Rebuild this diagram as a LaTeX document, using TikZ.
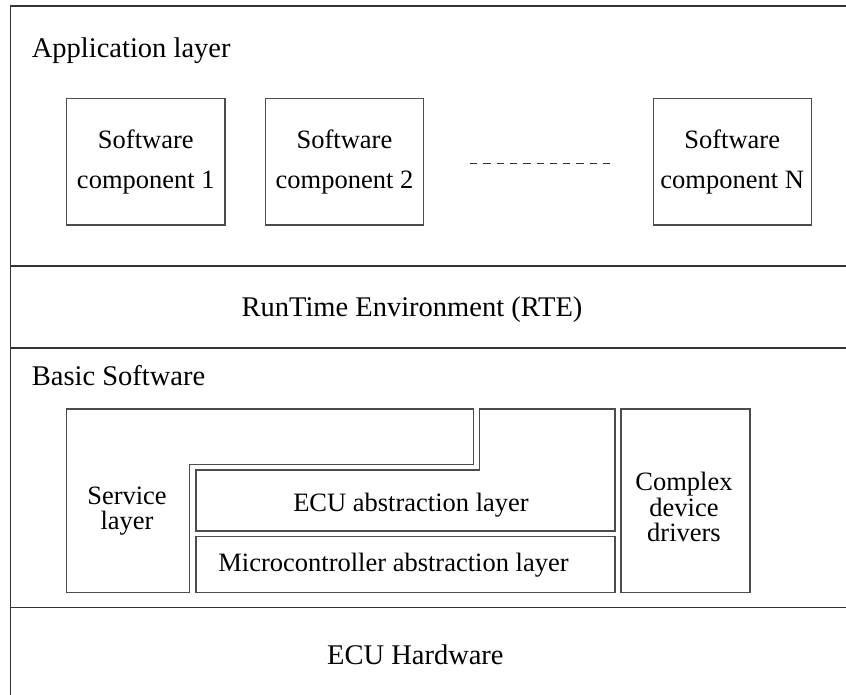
\documentclass[tikz,border=0pt]{standalone}
\usepackage{fontspec}
\setmainfont{Liberation Serif}
\begin{document}
\begin{tikzpicture}[x=1pt,y=-1pt,
  layerline/.style={line width=1.5pt, draw=black!80},
  boxline/.style={line width=1.1pt, draw=black!70},
  swbox/.style={boxline, rectangle, inner sep=0pt, minimum width=158.3pt, minimum height=126.7pt,
                align=center, font=\fontsize{26.5}{40}\selectfont},
  lbl/.style={inner sep=0pt, font=\fontsize{28.5}{34}\selectfont},
  txt/.style={inner sep=0pt, align=center, font=\fontsize{26.5}{30}\selectfont},
  dots/.style={line width=1pt, draw=black!80, dash pattern=on 7.3pt off 6pt}
]
\useasboundingbox (0,0) rectangle (846,695);
% layer frame
\coordinate (tl) at (10.7,6);
\coordinate (tr) at (852,6);
\coordinate (bl) at (10.7,700);
\coordinate (a1) at (10.7,266);   \coordinate (b1) at (852,266);
\coordinate (a2) at (10.7,348);   \coordinate (b2) at (852,348);
\coordinate (a3) at (10.7,607.5); \coordinate (b3) at (852,607.5);
\draw[layerline] (tr) -- (tl) -- (bl);
\draw[layerline] (a1) -- (b1);
\draw[layerline] (a2) -- (b2);
\draw[layerline] (a3) -- (b3);

% application layer
\node[lbl, anchor=base west] (app) at (31.7,57.3) {Application layer};
\node[swbox] (sc1) at (145.8,161.7) {Software\\component 1};
\node[swbox] (sc2) at (344.5,161.7) {Software\\component 2};
\node[swbox] (scN) at (732.2,161.7) {Software\\component N};
\coordinate (d1) at (470,163.3);
\coordinate (d2) at (611.7,163.3);
\draw[dots] (d1) -- (d2);

% RTE
\node[lbl, anchor=base] (rte) at (412,316.7) {RunTime Environment (RTE)};

% basic software
\node[lbl, anchor=base west] (bsw) at (31.7,385) {Basic Software};
\draw[boxline] (66.7,409) -- (473.5,409) -- (473.5,464.5) -- (189.5,464.5)
  -- (189.5,592.3) -- (66.7,592.3) -- cycle;
\draw[boxline] (479.5,409) -- (615,409) -- (615,531) -- (196,531)
  -- (196,470) -- (479.5,470) -- cycle;
\draw[boxline] (196,536.5) rectangle (615,592.3);
\draw[boxline] (621,409) rectangle (750,592.3);
\node[txt, font=\fontsize{26.5}{24.5}\selectfont] (srv) at (127,511) {Service\\layer};
\node[txt, anchor=base] (ecu) at (411,511.7) {ECU abstraction layer};
\node[txt, anchor=base] (mcal) at (393.5,571.7) {Microcontroller abstraction layer};
\node[txt, font=\fontsize{26.5}{25.5}\selectfont] (cdd) at (684,507.2) {Complex\\device\\drivers};

% hardware
\node[lbl, anchor=base] (hw) at (415.4,664.3) {ECU Hardware};
\end{tikzpicture}
\end{document}
